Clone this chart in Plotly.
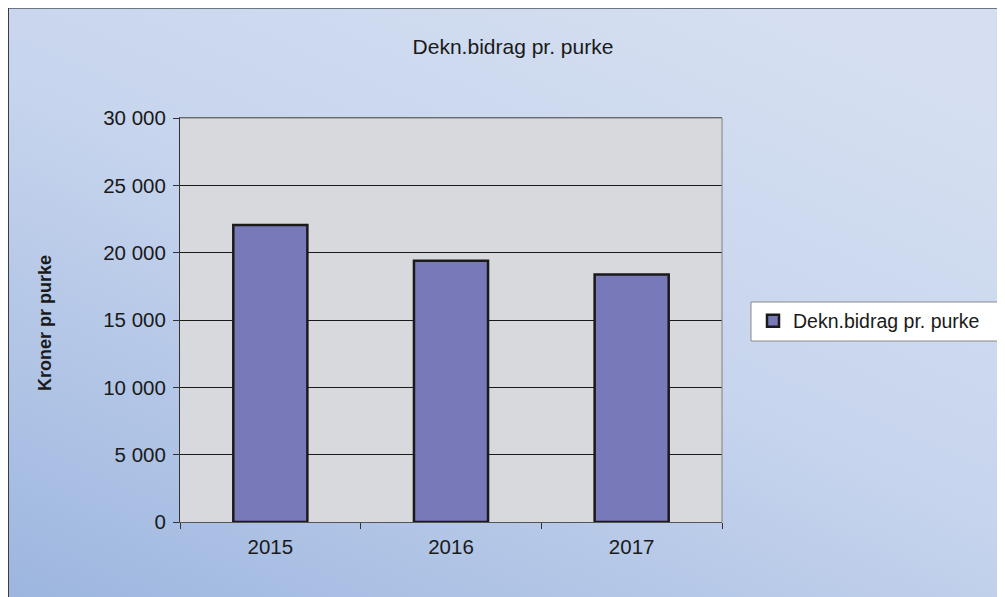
import base64
import plotly.graph_objects as go

years = ["2015", "2016", "2017"]
values = [22050, 19400, 18380]
series_name = "Dekn.bidrag pr. purke"
title_text = "Dekn.bidrag pr. purke"
y_title = "Kroner pr purke"
tick_vals = [0, 5000, 10000, 15000, 20000, 25000, 30000]
tick_text = ["0", "5 000", "10 000", "15 000", "20 000", "25 000", "30 000"]

W, H = 997, 589
L, R, T, B = 172, 283, 110, 75
PW, PH = W - L - R, H - T - B

svg = f"""<svg xmlns='http://www.w3.org/2000/svg' width='{W}' height='{H}'>
<defs><linearGradient id='g' x1='0' y1='1' x2='0.75' y2='0'>
<stop offset='0' stop-color='#9db6df'/>
<stop offset='0.55' stop-color='#c6d4ed'/>
<stop offset='1' stop-color='#d5dff1'/>
</linearGradient></defs>
<rect x='0' y='0' width='{W}' height='{H}' fill='url(#g)'/>
<rect x='{L}' y='{T}' width='{PW}' height='{PH}' fill='#d8d9dc'/>
<line x1='0' y1='0' x2='{W}' y2='0' stroke='#6e7585' stroke-width='2'/>
<line x1='0' y1='0' x2='0' y2='{H}' stroke='#3a3d45' stroke-width='2'/>
</svg>"""
bg_uri = "data:image/svg+xml;base64," + base64.b64encode(svg.encode()).decode()

fig = go.Figure()
fig.add_trace(go.Bar(
    x=years, y=values, name=series_name,
    marker=dict(color="#7779b9", line=dict(color="#1a1a1a", width=2.5)),
    showlegend=True,
))

# legend box (fig coords 743..992 x 294..333)
lx0, lx1, ly0, ly1 = 743, 992, 294, 333

fig.update_layout(
    width=W, height=H,
    margin=dict(l=L, r=R, t=T, b=B, pad=0),
    paper_bgcolor="rgba(0,0,0,0)",
    plot_bgcolor="rgba(0,0,0,0)",
    bargap=0.59,
    font=dict(family="Arial, Liberation Sans, sans-serif", color="#1a1a1a", size=20.5),
    title=dict(text=title_text, x=505 / W, xanchor="center", y=1 - 39 / H, yanchor="middle",
               font=dict(size=21, color="#1a1a1a")),
    legend=dict(x=(745 - L) / PW, y=1 - (313 - T) / PH, xanchor="left", yanchor="middle",
                bgcolor="rgba(0,0,0,0)", borderwidth=0,
                font=dict(size=19.5), itemwidth=30),
    images=[dict(source=bg_uri, xref="paper", yref="paper", x=-L / PW, y=1 + T / PH,
                 sizex=W / PW, sizey=H / PH, xanchor="left", yanchor="top",
                 sizing="stretch", layer="below")],
    annotations=[dict(text="<b>" + y_title + "</b>", xref="paper", yref="paper",
                      x=(37 - L) / PW, y=1 - (315 - T) / PH, showarrow=False,
                      textangle=-90, xanchor="center", yanchor="middle",
                      font=dict(size=18, color="#1a1a1a"))],
)
fig.update_xaxes(
    showline=True, linecolor="#555555", linewidth=1, mirror=True,
    ticks="outside", tickson="boundaries", ticklen=6, tickcolor="#333333",
    showgrid=False, ticklabelstandoff=6,
)
fig.update_yaxes(
    range=[0, 30000], tickvals=tick_vals, ticktext=tick_text,
    showline=True, linecolor="#333333", linewidth=1, mirror=False,
    ticks="outside", ticklen=6, tickcolor="#333333",
    showgrid=True, gridcolor="#1a1a1a", gridwidth=1,
    zeroline=False, ticklabelstandoff=3,
)
fig.add_shape(type="line", xref="paper", yref="paper", x0=0, x1=1, y0=1, y1=1,
              line=dict(color="#808080", width=1), layer="above")
fig.add_shape(type="line", xref="paper", yref="paper", x0=1, x1=1, y0=0, y1=1,
              line=dict(color="#808080", width=1), layer="above")
fig.add_shape(type="rect", xref="paper", yref="paper",
              x0=(lx0 - L) / PW, x1=(lx1 - L) / PW,
              y0=1 - (ly1 - T) / PH, y1=1 - (ly0 - T) / PH,
              fillcolor="#ffffff", line=dict(color="#8a8a8a", width=1), layer="below")

fig.write_html("out.html")
